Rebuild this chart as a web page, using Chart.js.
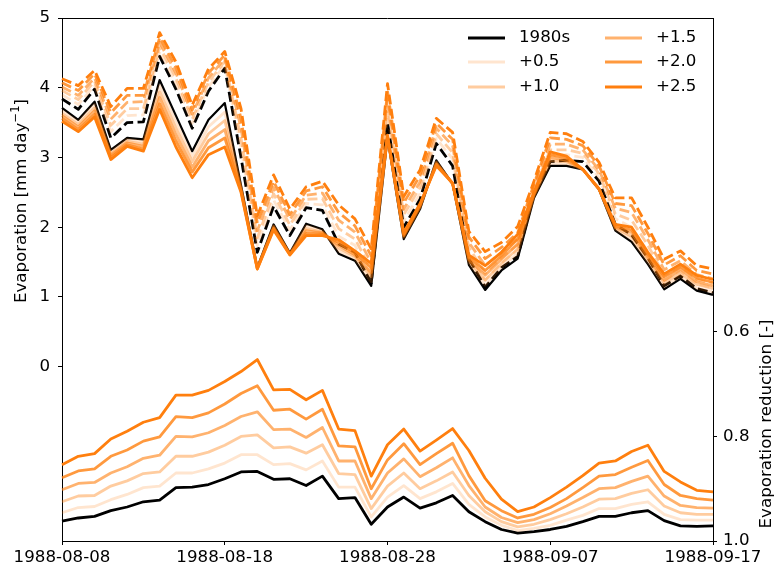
<!DOCTYPE html>
<html>
<head>
<meta charset="utf-8">
<script src="https://cdn.jsdelivr.net/npm/chart.js@4.4.1/dist/chart.umd.min.js"></script>
<style>
html, body { margin: 0; padding: 0; background: #fff; }
canvas { display: block; }
</style>
</head>
<body>
<canvas id="evapChart" width="778" height="574"></canvas>
<script>
const dates = [
    "1988-08-08", "1988-08-09", "1988-08-10", "1988-08-11", "1988-08-12", "1988-08-13", "1988-08-14",
    "1988-08-15", "1988-08-16", "1988-08-17", "1988-08-18", "1988-08-19", "1988-08-20", "1988-08-21",
    "1988-08-22", "1988-08-23", "1988-08-24", "1988-08-25", "1988-08-26", "1988-08-27", "1988-08-28",
    "1988-08-29", "1988-08-30", "1988-08-31", "1988-09-01", "1988-09-02", "1988-09-03", "1988-09-04",
    "1988-09-05", "1988-09-06", "1988-09-07", "1988-09-08", "1988-09-09", "1988-09-10", "1988-09-11",
    "1988-09-12", "1988-09-13", "1988-09-14", "1988-09-15", "1988-09-16", "1988-09-17"
];
const xTickDates = ["1988-08-08", "1988-08-18", "1988-08-28", "1988-09-07", "1988-09-17"];
const leftTicks = [0, 1, 2, 3, 4, 5];
const rightTicks = [0.6, 0.8, 1.0];

const scenarioLabels = ["+0.5", "+1.0", "+1.5", "+2.0", "+2.5"];
const baseLabel = "1980s";

// actual evaporation (solid lines, mm/day)
const evap1980s = [3.71, 3.54, 3.80, 3.11, 3.28, 3.26, 4.11, 3.60, 3.09, 3.54, 3.78, 2.60, 1.42, 2.04, 1.63, 2.05, 1.97, 1.62, 1.52, 1.16, 3.28, 1.83, 2.26, 2.96, 2.62, 1.46, 1.10, 1.38, 1.55, 2.42, 2.88, 2.88, 2.83, 2.54, 1.95, 1.79, 1.47, 1.11, 1.26, 1.09, 1.03];
const evap05 = [3.67, 3.51, 3.76, 3.08, 3.26, 3.23, 4.03, 3.51, 3.01, 3.44, 3.65, 2.58, 1.42, 2.02, 1.62, 2.02, 1.95, 1.66, 1.55, 1.22, 3.29, 1.85, 2.28, 2.94, 2.62, 1.49, 1.17, 1.43, 1.62, 2.44, 2.92, 2.91, 2.83, 2.54, 1.97, 1.83, 1.50, 1.15, 1.30, 1.13, 1.07];
const evap10 = [3.63, 3.47, 3.71, 3.05, 3.23, 3.19, 3.94, 3.42, 2.94, 3.34, 3.53, 2.56, 1.41, 2.01, 1.62, 1.98, 1.93, 1.70, 1.58, 1.29, 3.30, 1.87, 2.29, 2.93, 2.62, 1.52, 1.24, 1.48, 1.69, 2.45, 2.96, 2.94, 2.83, 2.54, 1.99, 1.87, 1.54, 1.20, 1.34, 1.18, 1.12];
const evap15 = [3.60, 3.44, 3.67, 3.03, 3.21, 3.16, 3.86, 3.33, 2.86, 3.24, 3.40, 2.54, 1.41, 1.99, 1.61, 1.95, 1.92, 1.74, 1.60, 1.35, 3.30, 1.88, 2.31, 2.91, 2.63, 1.54, 1.31, 1.54, 1.76, 2.47, 3.00, 2.96, 2.83, 2.55, 2.00, 1.92, 1.57, 1.24, 1.39, 1.22, 1.16];
const evap20 = [3.56, 3.40, 3.62, 3.00, 3.18, 3.12, 3.77, 3.24, 2.79, 3.14, 3.28, 2.52, 1.40, 1.98, 1.61, 1.91, 1.90, 1.78, 1.63, 1.42, 3.31, 1.90, 2.32, 2.90, 2.63, 1.57, 1.38, 1.59, 1.83, 2.48, 3.04, 2.99, 2.83, 2.55, 2.02, 1.96, 1.61, 1.29, 1.43, 1.27, 1.21];
const evap25 = [3.52, 3.37, 3.58, 2.97, 3.16, 3.09, 3.69, 3.15, 2.71, 3.04, 3.15, 2.50, 1.40, 1.96, 1.60, 1.88, 1.88, 1.82, 1.66, 1.48, 3.32, 1.92, 2.34, 2.88, 2.63, 1.60, 1.45, 1.64, 1.90, 2.50, 3.08, 3.02, 2.83, 2.55, 2.04, 2.00, 1.64, 1.33, 1.47, 1.31, 1.25];

// potential evaporation (dashed lines, mm/day)
const potEvap1980s = [3.84, 3.69, 3.98, 3.28, 3.50, 3.51, 4.45, 3.98, 3.42, 3.95, 4.28, 3.00, 1.64, 2.30, 1.88, 2.28, 2.24, 1.76, 1.64, 1.20, 3.50, 2.00, 2.40, 3.20, 2.88, 1.55, 1.14, 1.42, 1.58, 2.47, 2.94, 2.96, 2.94, 2.66, 2.04, 1.89, 1.56, 1.16, 1.30, 1.12, 1.06];
const potEvap05 = [3.90, 3.76, 4.03, 3.37, 3.60, 3.61, 4.52, 4.06, 3.49, 4.01, 4.33, 3.14, 1.74, 2.39, 1.96, 2.34, 2.32, 1.87, 1.74, 1.30, 3.61, 2.09, 2.48, 3.27, 2.98, 1.63, 1.24, 1.49, 1.67, 2.51, 3.02, 3.04, 3.00, 2.71, 2.12, 2.00, 1.65, 1.24, 1.37, 1.19, 1.13];
const potEvap10 = [3.96, 3.83, 4.09, 3.46, 3.70, 3.70, 4.59, 4.14, 3.55, 4.08, 4.38, 3.28, 1.85, 2.48, 2.03, 2.40, 2.41, 1.98, 1.83, 1.40, 3.72, 2.18, 2.57, 3.34, 3.07, 1.71, 1.34, 1.56, 1.75, 2.55, 3.11, 3.11, 3.06, 2.77, 2.19, 2.10, 1.74, 1.31, 1.44, 1.25, 1.20];
const potEvap15 = [4.01, 3.89, 4.14, 3.55, 3.79, 3.80, 4.65, 4.21, 3.62, 4.14, 4.42, 3.42, 1.95, 2.57, 2.11, 2.46, 2.49, 2.10, 1.93, 1.49, 3.84, 2.26, 2.65, 3.42, 3.17, 1.78, 1.45, 1.64, 1.84, 2.58, 3.19, 3.19, 3.11, 2.82, 2.27, 2.21, 1.82, 1.39, 1.52, 1.32, 1.26];
const potEvap20 = [4.07, 3.96, 4.20, 3.64, 3.89, 3.89, 4.72, 4.29, 3.68, 4.21, 4.47, 3.56, 2.06, 2.66, 2.18, 2.52, 2.58, 2.21, 2.02, 1.59, 3.95, 2.35, 2.74, 3.49, 3.26, 1.86, 1.55, 1.71, 1.92, 2.62, 3.28, 3.26, 3.17, 2.88, 2.34, 2.31, 1.91, 1.46, 1.59, 1.38, 1.33];
const potEvap25 = [4.13, 4.03, 4.25, 3.73, 3.99, 3.99, 4.79, 4.37, 3.75, 4.27, 4.52, 3.70, 2.16, 2.75, 2.26, 2.58, 2.66, 2.32, 2.12, 1.69, 4.06, 2.44, 2.82, 3.56, 3.36, 1.94, 1.65, 1.78, 2.01, 2.66, 3.36, 3.34, 3.23, 2.93, 2.42, 2.42, 2.00, 1.54, 1.66, 1.45, 1.40];

// evaporation reduction (right axis, reversed)
const reduction1980s = [0.962, 0.956, 0.953, 0.942, 0.935, 0.925, 0.922, 0.898, 0.897, 0.892, 0.881, 0.868, 0.867, 0.882, 0.881, 0.894, 0.876, 0.919, 0.917, 0.968, 0.935, 0.916, 0.937, 0.927, 0.913, 0.944, 0.963, 0.978, 0.985, 0.982, 0.978, 0.972, 0.963, 0.953, 0.953, 0.946, 0.942, 0.961, 0.971, 0.972, 0.971];
const reduction05 = [0.946, 0.936, 0.934, 0.921, 0.911, 0.898, 0.895, 0.870, 0.870, 0.862, 0.851, 0.835, 0.835, 0.854, 0.852, 0.864, 0.847, 0.897, 0.897, 0.954, 0.916, 0.894, 0.919, 0.906, 0.890, 0.930, 0.954, 0.970, 0.980, 0.976, 0.970, 0.960, 0.951, 0.938, 0.938, 0.930, 0.925, 0.949, 0.959, 0.960, 0.960];
const reduction10 = [0.925, 0.914, 0.913, 0.895, 0.885, 0.871, 0.868, 0.838, 0.838, 0.830, 0.817, 0.800, 0.797, 0.822, 0.820, 0.832, 0.816, 0.871, 0.873, 0.938, 0.895, 0.870, 0.900, 0.885, 0.868, 0.913, 0.944, 0.963, 0.973, 0.968, 0.959, 0.948, 0.935, 0.920, 0.919, 0.909, 0.902, 0.933, 0.946, 0.949, 0.949];
const reduction15 = [0.902, 0.890, 0.888, 0.870, 0.858, 0.842, 0.836, 0.800, 0.801, 0.793, 0.779, 0.762, 0.753, 0.787, 0.786, 0.802, 0.783, 0.847, 0.847, 0.919, 0.870, 0.843, 0.877, 0.860, 0.841, 0.894, 0.935, 0.955, 0.965, 0.959, 0.948, 0.933, 0.917, 0.900, 0.898, 0.886, 0.876, 0.914, 0.932, 0.936, 0.937];
const reduction20 = [0.879, 0.866, 0.862, 0.838, 0.826, 0.809, 0.801, 0.762, 0.764, 0.755, 0.738, 0.718, 0.703, 0.750, 0.748, 0.767, 0.748, 0.818, 0.820, 0.900, 0.845, 0.814, 0.854, 0.833, 0.813, 0.875, 0.923, 0.942, 0.956, 0.949, 0.936, 0.919, 0.898, 0.876, 0.873, 0.859, 0.846, 0.892, 0.913, 0.919, 0.922];
const reduction25 = [0.854, 0.838, 0.833, 0.805, 0.790, 0.773, 0.764, 0.721, 0.721, 0.712, 0.695, 0.676, 0.653, 0.711, 0.710, 0.730, 0.712, 0.786, 0.789, 0.876, 0.816, 0.786, 0.828, 0.807, 0.785, 0.827, 0.880, 0.920, 0.944, 0.935, 0.917, 0.897, 0.875, 0.851, 0.847, 0.829, 0.817, 0.867, 0.887, 0.903, 0.906];

const scenarioEvap = [evap05, evap10, evap15, evap20, evap25];
const scenarioPotEvap = [potEvap05, potEvap10, potEvap15, potEvap20, potEvap25];
const scenarioReduction = [reduction05, reduction10, reduction15, reduction20, reduction25];

const FONT = "DejaVu Sans";
const FONT_SIZE = 16.67;
const LINE_W = 2.8;
const DASH = [10, 4.4];
const scenarioColors = [0.2, 0.4, 0.6, 0.8, 1.0].map(a => `rgba(255,127,14,${a})`);

function line(data, color, axis, dashed, width) {
    return {
        data,
        borderColor: color,
        borderWidth: width || LINE_W,
        borderDash: dashed ? DASH : [],
        borderJoinStyle: "round",
        pointRadius: 0,
        tension: 0,
        fill: false,
        yAxisID: axis
    };
}

// build in drawing order (first = bottom)
const datasets = [];
datasets.push(line(evap1980s, "#000", "y", false, 2.2));
datasets.push(line(potEvap1980s, "#000", "y", true));
scenarioLabels.forEach((lab, i) => {
    datasets.push(line(scenarioEvap[i], scenarioColors[i], "y", false));
    datasets.push(line(scenarioPotEvap[i], scenarioColors[i], "y", true));
});
datasets.push(line(reduction1980s, "#000", "y2", false));
scenarioLabels.forEach((lab, i) => {
    datasets.push(line(scenarioReduction[i], scenarioColors[i], "y2", false));
});
datasets.forEach((ds, i) => { ds.order = datasets.length - i; });

const tickFont = { family: FONT, size: FONT_SIZE };
const axisGrid = { drawOnChartArea: false, color: "#000", tickLength: 4, tickWidth: 1 };
const axisBorder = { display: true, color: "#000", width: 1 };

const frameAndText = {
    id: "frameAndText",
    afterDraw(chart) {
        const ctx = chart.ctx;
        const a = chart.chartArea;
        ctx.save();
        ctx.strokeStyle = "#000";
        ctx.lineWidth = 1;
        ctx.beginPath();
        ctx.moveTo(a.left, a.top + 0.5);
        ctx.lineTo(a.right, a.top + 0.5);
        ctx.stroke();

        ctx.fillStyle = "#000";
        ctx.textBaseline = "middle";

        // left axis title with superscript
        const mainFont = `${FONT_SIZE}px "${FONT}"`;
        const supFont = `${FONT_SIZE * 0.7}px "${FONT}"`;
        const t1 = "Evaporation [mm day", t2 = "\u22121", t3 = "]";
        ctx.font = mainFont;
        const w1 = ctx.measureText(t1).width, w3 = ctx.measureText(t3).width;
        ctx.font = supFont;
        const w2 = ctx.measureText(t2).width;
        const total = w1 + w2 + w3;
        ctx.save();
        ctx.translate(22, 201);
        ctx.rotate(-Math.PI / 2);
        ctx.textAlign = "left";
        let x = -total / 2;
        ctx.font = mainFont;
        ctx.fillText(t1, x, 0);
        x += w1;
        ctx.font = supFont;
        ctx.fillText(t2, x, -6);
        x += w2;
        ctx.font = mainFont;
        ctx.fillText(t3, x, 0);
        ctx.restore();

        // right axis title
        ctx.save();
        ctx.translate(767, 424);
        ctx.rotate(-Math.PI / 2);
        ctx.textAlign = "center";
        ctx.font = mainFont;
        ctx.fillText("Evaporation reduction [-]", 0, 0);
        ctx.restore();

        // legend, two columns
        const entries = [[baseLabel, "#000"]].concat(scenarioLabels.map((l, i) => [l, scenarioColors[i]]));
        const rows = [38, 62, 87];
        const cols = [468, 605];
        ctx.font = mainFont;
        ctx.textAlign = "left";
        entries.forEach((e, i) => {
            const cx = cols[Math.floor(i / 3)];
            const cy = rows[i % 3];
            ctx.strokeStyle = e[1];
            ctx.lineWidth = LINE_W;
            ctx.beginPath();
            ctx.moveTo(cx, cy);
            ctx.lineTo(cx + 37, cy);
            ctx.stroke();
            ctx.fillStyle = "#000";
            ctx.fillText(e[0], cx + 51, cy);
        });
        ctx.restore();
    }
};

new Chart(document.getElementById("evapChart").getContext("2d"), {
    type: "line",
    data: { labels: dates, datasets },
    options: {
        responsive: false,
        devicePixelRatio: 1,
        animation: false,
        layout: { padding: { top: 15, left: 0, right: 0, bottom: 0 } },
        plugins: { legend: { display: false }, tooltip: { enabled: false } },
        scales: {
            x: {
                type: "category",
                offset: false,
                grid: { ...axisGrid, offset: false },
                border: axisBorder,
                ticks: { autoSkip: false, maxRotation: 0, color: "#000", font: tickFont, padding: 3 },
                afterBuildTicks: s => { s.ticks = xTickDates.map(d => ({ value: dates.indexOf(d) })); },
                afterFit: s => { s.height = 33; }
            },
            y: {
                position: "left",
                min: -2.5,
                max: 5,
                grid: axisGrid,
                border: axisBorder,
                ticks: { color: "#000", font: tickFont, padding: 8, callback: v => String(v) },
                afterBuildTicks: s => { s.ticks = leftTicks.map(v => ({ value: v })); },
                afterFit: s => { s.width = 62; }
            },
            y2: {
                position: "right",
                min: 0,
                max: 1,
                reverse: true,
                grid: axisGrid,
                border: axisBorder,
                ticks: { color: "#000", font: tickFont, padding: 6, callback: v => v.toFixed(1) },
                afterBuildTicks: s => { s.ticks = rightTicks.map(v => ({ value: v })); },
                afterFit: s => { s.width = 65; }
            }
        }
    },
    plugins: [frameAndText]
});
</script>
</body>
</html>
